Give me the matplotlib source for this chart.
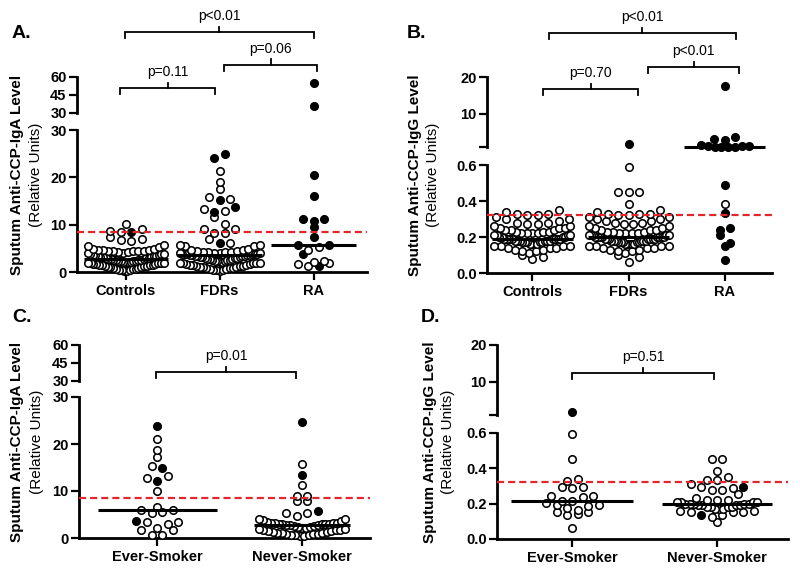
import numpy as np
import matplotlib
matplotlib.use('Agg')
import matplotlib.pyplot as plt
from matplotlib.transforms import blended_transform_factory

plt.rcParams['font.family'] = ['Liberation Sans', 'DejaVu Sans']

# ---------------- data ----------------
cats_abc = ['Controls', 'FDRs', 'RA']
cats_smoke = ['Ever-Smoker', 'Never-Smoker']

# Panel A: sputum anti-CCP-IgA
a_ctrl_open = [0.2, 0.3, 0.4, 0.5, 0.5, 0.6, 0.7, 0.7, 0.8, 0.9,
               1.0, 1.0, 1.1, 1.2, 1.2, 1.3, 1.4, 1.4, 1.5, 1.5,
               1.6, 1.7, 1.7, 1.8, 1.8, 1.9, 2.0, 2.0, 2.1, 2.1,
               2.2, 2.2, 2.3, 2.3, 2.4, 2.4, 2.5, 2.5, 2.6, 2.6,
               2.7, 2.7, 2.8, 2.9, 3.0, 3.0, 3.1, 3.1, 3.2, 3.3,
               3.3, 3.4, 3.5, 3.5, 3.6, 3.7, 3.8, 3.9, 4.0, 4.1,
               4.3, 4.4, 4.5, 4.5, 4.6, 4.6, 4.7, 4.5, 4.4, 4.3, 4.8, 4.9,
               5.2, 5.5, 5.7, 6.5, 6.7, 7.0, 7.5, 8.4, 8.6, 9.0, 10.2]
a_ctrl_filled = [8.5]
a_fdr_open = [0.3, 0.4, 0.5, 0.5, 0.6, 0.7, 0.8, 0.8, 0.9, 1.0,
              1.0, 1.1, 1.2, 1.2, 1.3, 1.4, 1.5, 1.5, 1.6, 1.7,
              1.8, 1.8, 1.9, 2.0, 2.0, 2.1, 2.2, 2.3, 2.3, 2.4,
              2.5, 2.5, 2.6, 2.7, 2.8, 2.8, 2.9, 3.0, 3.0, 3.1,
              3.2, 3.2, 3.3, 3.3, 3.4, 3.4, 3.5, 3.5, 3.6, 3.6,
              3.7, 3.7, 3.8, 3.8, 3.9, 3.9, 4.0, 4.0, 4.1, 4.1,
              4.2, 4.2, 4.3, 4.3,
              21.3, 19.0, 17.5, 15.4, 15.8, 13.4, 12.9, 11.7, 10.1, 9.0,
              9.0, 8.2, 8.2, 6.9, 5.8, 5.8, 6.2, 5.5, 5.5, 4.6, 4.8, 4.4, 4.7, 4.5]
a_fdr_filled = [24.9, 24.1, 15.2, 13.7, 12.7, 6.1]
a_ra_open = [5.2, 4.6, 2.1, 1.6, 1.3, 2.0, 2.4]
a_ra_filled = [55, 36, 20.4, 16.1, 11.3, 10.8, 11.3, 9.5, 7.3, 5.8, 5.6, 3.7, 1.3]

# Panel B: sputum anti-CCP-IgG
b_ctrl_open = [0.08, 0.09, 0.10, 0.11, 0.12, 0.12, 0.13, 0.13, 0.14, 0.14,
               0.14, 0.15, 0.15, 0.15, 0.15, 0.16, 0.16, 0.16, 0.16, 0.17,
               0.17, 0.17, 0.17, 0.17, 0.18, 0.18, 0.18, 0.18, 0.18, 0.18,
               0.19, 0.19, 0.19, 0.19, 0.19, 0.19, 0.19, 0.19, 0.20, 0.20,
               0.20, 0.20, 0.21, 0.21, 0.21, 0.21, 0.22, 0.22, 0.22, 0.22,
               0.23, 0.23, 0.23, 0.24, 0.24, 0.24, 0.25, 0.25, 0.25, 0.26,
               0.26, 0.27, 0.27, 0.28, 0.28, 0.29, 0.30, 0.30, 0.31, 0.32,
               0.32, 0.33, 0.33, 0.34, 0.35]
b_ctrl_filled = []
b_fdr_open = [0.06, 0.09, 0.10, 0.11, 0.12, 0.12, 0.13, 0.13, 0.14, 0.14,
              0.14, 0.15, 0.15, 0.15, 0.15, 0.16, 0.16, 0.16, 0.16, 0.16,
              0.17, 0.17, 0.17, 0.17, 0.17, 0.18, 0.18, 0.18, 0.18, 0.18,
              0.18, 0.19, 0.19, 0.19, 0.19, 0.19, 0.19, 0.19, 0.20, 0.20,
              0.20, 0.20, 0.20, 0.20, 0.20, 0.20, 0.21, 0.21, 0.21, 0.21,
              0.21, 0.22, 0.22, 0.22, 0.22, 0.23, 0.23, 0.23, 0.24, 0.24,
              0.24, 0.25, 0.25, 0.26, 0.26, 0.27, 0.27, 0.28, 0.28, 0.29,
              0.29, 0.30, 0.30, 0.31, 0.31, 0.32, 0.32, 0.33, 0.33, 0.33,
              0.34, 0.35, 0.385, 0.45, 0.45, 0.45, 0.59]
b_fdr_filled = [1.7]
b_ra_open = [0.385]
b_ra_filled = [17.5, 3.8, 3.3, 2.9, 1.05, 1.05, 1.1, 1.1, 1.15, 1.2, 1.4, 1.6,
               0.49, 0.333, 0.24, 0.25, 0.21, 0.167, 0.15, 0.074]

# Panel C: IgA by smoking
c_ever_open = [21.0, 18.8, 17.3, 15.3, 13.2, 12.7, 9.9, 6.0, 5.5, 6.0, 6.7, 5.3,
               3.4, 3.0, 3.4, 2.1, 1.6, 1.6, 0.6, 0.7]
c_ever_filled = [23.9, 15.0, 12.2, 3.7]
c_never_open = [0.4, 0.5, 0.6, 0.6, 0.7, 0.8, 0.8, 0.9, 1.0, 1.0,
                1.1, 1.2, 1.3, 1.4, 1.5, 1.6, 1.7, 1.8, 1.9, 2.0,
                2.1, 2.2, 2.3, 2.4, 2.5, 2.6, 2.7, 2.8, 2.8, 2.9,
                2.9, 3.0, 3.0, 3.1, 2.9, 3.1,
                15.7, 11.3, 9.0, 9.0, 7.8, 7.8, 5.3, 4.7, 4.0, 3.7, 3.2, 3.2, 3.3, 3.9, 4.0, 5.3]
c_never_filled = [24.7, 13.5, 5.8]

# Panel D: IgG by smoking
d_ever_open = [0.597, 0.455, 0.326, 0.34, 0.297, 0.288, 0.297, 0.246, 0.216, 0.203,
               0.216, 0.237, 0.246, 0.193, 0.174, 0.155, 0.142, 0.136, 0.155, 0.165,
               0.184, 0.193, 0.064]
d_ever_filled = [1.8]
d_never_open = [0.16, 0.16, 0.17, 0.17, 0.17, 0.18, 0.18, 0.18, 0.18, 0.19,
                0.19, 0.19, 0.19, 0.20, 0.20, 0.20, 0.20, 0.20, 0.21, 0.21,
                0.21, 0.21, 0.22, 0.22, 0.22, 0.23,
                0.455, 0.455, 0.383, 0.335, 0.335, 0.35, 0.31, 0.275, 0.254, 0.275,
                0.288, 0.297, 0.152, 0.152, 0.127, 0.136, 0.152, 0.095]
d_never_filled = [0.297, 0.136]

iga_cutoff = 8.5
igg_cutoff = 0.32

# ---------------- layout ----------------
W, H = 800, 568
fig = plt.figure(figsize=(W / 100, H / 100), dpi=100)
fig.patch.set_facecolor('white')

SPINE_LW = 2.0
RED = '#e3262b'
MS = 29          # scatter marker area (pt^2)
MEW = 1.15
BIN_PX = 9.5     # height of a row of dots (px)
STEP_PX = 10.5   # horizontal spacing of dots within a row (px)


def rect(x0, x1, ytop, ybot):
    return [x0 / W, 1 - ybot / H, (x1 - x0) / W, (ybot - ytop) / H]


def row_offsets(ypx, y0, maxw):
    """Column-scatter layout: dots binned into rows, spread centre-out,
    lowest values nearest the centre (gives the 'smile' rows)."""
    ypx = np.asarray(ypx, dtype=float)
    out = np.zeros(len(ypx))
    bins = np.floor((ypx - y0) / BIN_PX).astype(int)
    for b in np.unique(bins):
        idx = np.where(bins == b)[0]
        m = len(idx)
        if m == 1:
            continue
        s = min(STEP_PX, 2 * maxw / (m - 1))
        slots = (np.arange(m) - (m - 1) / 2) * s
        slot_order = sorted(range(m), key=lambda j: (round(abs(slots[j]), 6), -slots[j] if (b % 2) else slots[j]))
        idx_sorted = idx[np.argsort(ypx[idx], kind='stable')]
        for k, i in enumerate(idx_sorted):
            out[i] = slots[slot_order[k]]
    return out


def panel(spec):
    ax_lo = fig.add_axes(rect(spec['x0'], spec['x1'], spec['lo'][0], spec['lo'][1]))
    ax_up = fig.add_axes(rect(spec['x0'], spec['x1'], spec['up'][0], spec['up'][1]))
    for ax in (ax_lo, ax_up):
        ax.patch.set_visible(False)
        ax.set_xlim(spec['xlim'])
        for s in ('top', 'right'):
            ax.spines[s].set_visible(False)
        ax.spines['left'].set_linewidth(SPINE_LW)
        ax.spines['bottom'].set_linewidth(SPINE_LW)
        ax.tick_params(direction='out', length=5.5, width=1.6, labelsize=10.5, pad=2)
    ax_up.spines['bottom'].set_visible(False)
    ax_up.set_xticks([])
    ax_lo.set_ylim(spec['lo_lim'])
    ax_up.set_ylim(spec['up_lim'])
    ax_lo.set_yticks(spec['lo_ticks'])
    ax_lo.set_yticklabels(spec['lo_labels'], fontweight='bold')
    ax_up.set_yticks(spec['up_ticks'])
    ax_up.set_yticklabels(spec['up_labels'], fontweight='bold')
    cats = np.arange(len(spec['cats']))
    ax_lo.set_xticks(cats)
    ax_lo.set_xticklabels(spec['cats'], fontweight='bold', fontsize=10.5)
    ax_lo.tick_params(axis='x', pad=3)

    brk = spec['lo_lim'][1]
    xpx_unit = ax_lo.transData.transform((1, 0))[0] - ax_lo.transData.transform((0, 0))[0]
    y0 = ax_lo.transData.transform((0, 0))[1]

    for ci, (opn, fil) in enumerate(spec['groups']):
        vals = np.array(list(opn) + list(fil), dtype=float)
        filled = np.array([False] * len(opn) + [True] * len(fil))
        ypx = np.array([(ax_up if v > brk else ax_lo).transData.transform((0, v))[1] for v in vals])
        offs = row_offsets(ypx, y0, spec['maxw'][ci]) / xpx_unit
        order = np.argsort(vals, kind='stable')
        for i in order:
            ax = ax_up if vals[i] > brk else ax_lo
            ax.scatter(ci + offs[i], vals[i], s=MS, marker='o',
                       facecolor='black' if filled[i] else 'white',
                       edgecolor='black', linewidths=MEW, zorder=3, clip_on=False)
        med = np.median(vals)
        hw = spec['medw'][ci]
        axm = ax_up if med > brk else ax_lo
        axm.plot([ci - hw, ci + hw], [med, med], color='black', lw=2.2,
                 solid_capstyle='butt', zorder=4, clip_on=False)

    ax_lo.axhline(spec['cutoff'], color=RED, lw=1.6, linestyle=(0, (3.2, 1.8)), zorder=5)

    # significance brackets
    tr = blended_transform_factory(ax_lo.transData, fig.transFigure)
    for (xa, xb, ypx_line, label) in spec['brackets']:
        yl = 1 - ypx_line / H
        yh = 1 - (ypx_line + 6) / H
        yt = 1 - (ypx_line - 5.5) / H
        xc = (xa + xb) / 2
        ax_lo.plot([xa, xa, xb, xb], [yh, yl, yl, yh], color='black', lw=1.3,
                   transform=tr, clip_on=False, solid_joinstyle='miter')
        ax_lo.plot([xc, xc], [yl, yt], color='black', lw=1.3, transform=tr, clip_on=False)
        ax_lo.text(xc, 1 - (ypx_line - 16) / H, label, transform=tr, ha='center',
                   va='center', fontsize=10)

    # labels
    yc = 1 - (spec['up'][0] + spec['lo'][1]) / 2 / H
    fig.text(spec['ylab_x'][0] / W, yc, spec['ylabel'], rotation=90, ha='center',
             va='center', fontsize=11, fontweight='bold')
    fig.text(spec['ylab_x'][1] / W, yc, '(Relative Units)', rotation=90, ha='center',
             va='center', fontsize=11)
    fig.text(spec['letter'][0] / W, 1 - spec['letter'][1] / H, spec['letter'][2],
             ha='left', va='center', fontsize=14, fontweight='bold')


specs = [
    dict(x0=77, x1=367, lo=(130, 272), up=(77, 113), xlim=(-0.52, 2.57),
         lo_lim=(0, 30), up_lim=(30, 60), lo_ticks=[0, 10, 20, 30],
         lo_labels=['0', '10', '20', '30'], up_ticks=[30, 45, 60],
         up_labels=['30', '45', '60'], cats=cats_abc,
         groups=[(a_ctrl_open, a_ctrl_filled), (a_fdr_open, a_fdr_filled),
                 (a_ra_open, a_ra_filled)],
         medw=[0.45, 0.45, 0.45], maxw=[38, 40, 30], cutoff=iga_cutoff,
         brackets=[(0 - 0.06, 1 - 0.05, 88, 'p=0.11'), (1 + 0.05, 2 + 0.04, 65, 'p=0.06'),
                   (0 - 0.01, 2, 32, 'p<0.01')],
         ylabel='Sputum Anti-CCP-IgA Level', ylab_x=(17, 36), letter=(12, 33, 'A.')),
    dict(x0=487, x1=772, lo=(165, 273), up=(77, 147), xlim=(-0.47, 2.49),
         lo_lim=(0, 0.6), up_lim=(1, 20), lo_ticks=[0, 0.2, 0.4, 0.6],
         lo_labels=['0.0', '0.2', '0.4', '0.6'], up_ticks=[1, 10, 20],
         up_labels=['', '10', '20'], cats=cats_abc,
         groups=[(b_ctrl_open, b_ctrl_filled), (b_fdr_open, b_fdr_filled),
                 (b_ra_open, b_ra_filled)],
         medw=[0.42, 0.42, 0.42], maxw=[38, 40, 24], cutoff=igg_cutoff,
         brackets=[(0 + 0.11, 1 + 0.10, 89, 'p=0.70'), (1 + 0.2, 2 + 0.15, 67, 'p<0.01'),
                   (0 + 0.17, 2 + 0.12, 33, 'p<0.01')],
         ylabel='Sputum Anti-CCP-IgG Level', ylab_x=(415, 433), letter=(407, 33, 'B.')),
    dict(x0=79, x1=370, lo=(397, 538), up=(345, 381), xlim=(-0.54, 1.47),
         lo_lim=(0, 30), up_lim=(30, 60), lo_ticks=[0, 10, 20, 30],
         lo_labels=['0', '10', '20', '30'], up_ticks=[30, 45, 60],
         up_labels=['30', '45', '60'], cats=cats_smoke,
         groups=[(c_ever_open, c_ever_filled), (c_never_open, c_never_filled)],
         medw=[0.41, 0.33], maxw=[43, 43], cutoff=iga_cutoff,
         brackets=[(0 - 0.01, 1 - 0.04, 372, 'p=0.01')],
         ylabel='Sputum Anti-CCP-IgA Level', ylab_x=(17, 37), letter=(12, 317, 'C.')),
    dict(x0=497, x1=788, lo=(433, 539), up=(345, 415), xlim=(-0.52, 1.49),
         lo_lim=(0, 0.6), up_lim=(1, 20), lo_ticks=[0, 0.2, 0.4, 0.6],
         lo_labels=['0.0', '0.2', '0.4', '0.6'], up_ticks=[1, 10, 20],
         up_labels=['', '10', '20'], cats=cats_smoke,
         groups=[(d_ever_open, d_ever_filled), (d_never_open, d_never_filled)],
         medw=[0.42, 0.38], maxw=[43, 40], cutoff=igg_cutoff,
         brackets=[(0, 1 - 0.02, 373, 'p=0.51')],
         ylabel='Sputum Anti-CCP-IgG Level', ylab_x=(430, 448), letter=(421, 317, 'D.')),
]

for sp in specs:
    panel(sp)

fig.savefig('out.png', dpi=100, facecolor='white')
